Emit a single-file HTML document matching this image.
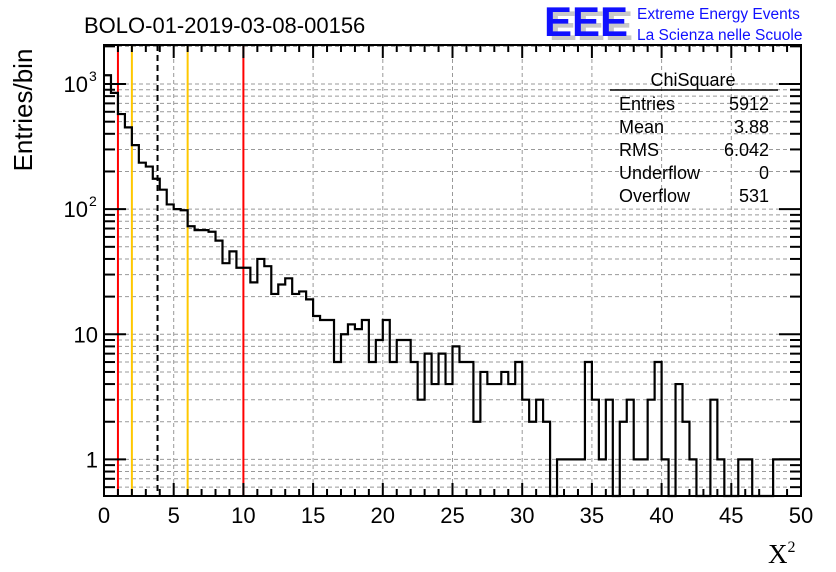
<!DOCTYPE html>
<html><head><meta charset="utf-8"><style>
body{margin:0;background:#fff;width:836px;height:572px;overflow:hidden}
svg{display:block;font-family:"Liberation Sans",sans-serif}
</style></head><body>
<svg id="chart" width="836" height="572" viewBox="0 0 836 572" xmlns="http://www.w3.org/2000/svg">
<rect x="0" y="0" width="836" height="572" fill="#fff"/>
<text x="84" y="33" font-size="22">BOLO-01-2019-03-08-00156</text>
<g>
<text x="549" y="40" font-size="42" font-weight="bold" fill="#c8c8c8" textLength="84" lengthAdjust="spacingAndGlyphs">EEE</text>
<text x="544" y="36" font-size="42" font-weight="bold" fill="#1010ff" textLength="84" lengthAdjust="spacingAndGlyphs">EEE</text>
<text x="637" y="19" font-size="15.5" fill="#1010ff">Extreme Energy Events</text>
<text x="637" y="40" font-size="15.5" fill="#1010ff">La Scienza nelle Scuole</text>
</g>
<g id="grid"></g>
<g id="vlines"></g>
<path id="hist" fill="none" stroke="#000" stroke-width="2.2"/>
<g id="axes"></g>
<g font-size="18">
<text x="693" y="86" text-anchor="middle">ChiSquare</text>
<line x1="610" y1="90" x2="778" y2="90" stroke="#000" stroke-width="1.5"/>
<text x="619" y="110">Entries</text><text x="769" y="110" text-anchor="end">5912</text>
<text x="619" y="133">Mean</text><text x="769" y="133" text-anchor="end">3.88</text>
<text x="619" y="156">RMS</text><text x="769" y="156" text-anchor="end">6.042</text>
<text x="619" y="179">Underflow</text><text x="769" y="179" text-anchor="end">0</text>
<text x="619" y="202">Overflow</text><text x="769" y="202" text-anchor="end">531</text>
</g>
<text transform="translate(32,110) rotate(-90)" text-anchor="middle" font-size="26">Entries/bin</text>
<text x="768" y="563" font-size="27" font-family="Liberation Serif,serif">X<tspan font-size="16" dy="-11">2</tspan></text>
</svg>
<script>
const binStart = 0, binWidth = 0.5;
const counts = [1175,850,575,450,325,235,219,175,143,109,100,98,73,68,68,66,56,37,46,34,
34,26,40,35,21,25,28,21,22,19,14,13,13,6,10,12,11,13,6,9,
13,6,9,9,6,3,7,4,7,4,8,6,6,2,5,4,4,5,4,6,
3,2,3,2,0,1,1,1,1,6,3,1,3,0,2,3,1,1,3,6,
1,0,4,2,1,0,0,3,1,0,0,1,1,0,0,0,1,1,1,1];
const xTicks = [0,5,10,15,20,25,30,35,40,45,50];
const yTicks = [1,10,100,1000];
const yTickBase = ["1","10","10","10"];
const yTickExp = ["","","2","3"];
const cutLines = [{x:1,c:"#ff0000",d:""},{x:2,c:"#ffc800",d:""},{x:3.84,c:"#000",d:"6,4"},{x:6,c:"#ffc800",d:""},{x:10,c:"#ff0000",d:""}];
const L=104,R=801,T=45,B=496, xMin=0,xMax=50, yMinLog=Math.log10(0.51), yMaxLog=Math.log10(2050);
const X=v=>L+(v-xMin)/(xMax-xMin)*(R-L);
const Y=v=>{const lv=v>0?Math.log10(v):yMinLog-1;const y=B-(lv-yMinLog)/(yMaxLog-yMinLog)*(B-T);return Math.min(B,Math.max(T,y));};
const NS="http://www.w3.org/2000/svg";
function mk(tag,attrs,parent){const e=document.createElementNS(NS,tag);for(const k in attrs)e.setAttribute(k,attrs[k]);parent.appendChild(e);return e;}
const grid=document.getElementById('grid'),axes=document.getElementById('axes'),vl=document.getElementById('vlines');
xTicks.forEach(t=>{if(t>xMin&&t<xMax){const l=mk('line',{x1:X(t),x2:X(t),y1:T,y2:B,stroke:'#999','stroke-dasharray':'4,3','stroke-width':1},grid);

}});
for(let d=0.1;d<=1000;d*=10){for(let m=1;m<10;m++){const v=Math.round(d*m*1000)/1000;const y=Y(v);if(v<0.51||v>2050)continue;
const l=mk('line',{x1:L,x2:R,y1:y,y2:y,stroke:'#999','stroke-dasharray':'4,3','stroke-width':1},grid);


const tl=m===1?22:11;
mk('line',{x1:L,x2:L+tl,y1:y,y2:y,stroke:'#000','stroke-width':2},axes);
mk('line',{x1:R,x2:R-tl,y1:y,y2:y,stroke:'#000','stroke-width':2},axes);}}
cutLines.forEach(c=>{const l=mk('line',{x1:X(c.x),x2:X(c.x),y1:T,y2:B,stroke:c.c,'stroke-width':2},vl);if(c.d)l.setAttribute('stroke-dasharray',c.d);

});
let d='';counts.forEach((v,i)=>{const x0=X(binStart+i*binWidth),x1=X(binStart+(i+1)*binWidth),y=Y(v);d+=(i===0?'M'+x0+','+y:'L'+x0+','+y)+'L'+x1+','+y;});
document.getElementById('hist').setAttribute('d',d);
const fr=mk('rect',{x:L,y:T,width:R-L,height:B-T,fill:'none',stroke:'#000','stroke-width':2},axes);


for(let v=xMin;v<=xMax;v++){const major=v%5===0;const tl=major?13:7;
mk('line',{x1:X(v),x2:X(v),y1:B,y2:B-tl,stroke:'#000','stroke-width':2},axes);
mk('line',{x1:X(v),x2:X(v),y1:T,y2:T+tl,stroke:'#000','stroke-width':2},axes);}
xTicks.forEach(t=>{const tx=mk('text',{x:X(t),y:523,'text-anchor':'middle','font-size':22},axes);tx.textContent=String(t);

});
yTicks.forEach((t,i)=>{const ex=yTickExp[i];const tx=mk('text',{x:ex?88:98,y:Y(t)+8,'text-anchor':'end','font-size':22},axes);tx.textContent=yTickBase[i];


if(ex){const s=mk('text',{x:89,y:Y(t)-3,'font-size':14},axes);s.textContent=ex;

}});
</script>
</body></html>
